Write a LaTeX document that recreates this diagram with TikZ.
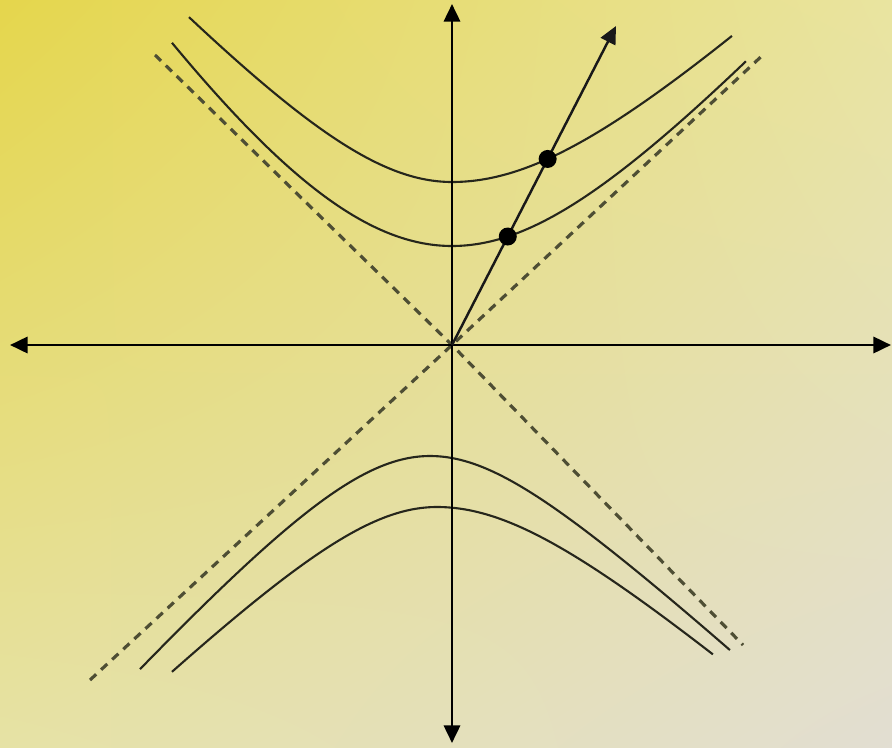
\documentclass[tikz,border=0pt]{standalone}
\usepackage{xcolor}
\usepackage{tikz}
\usetikzlibrary{arrows.meta,shadings,intersections}

\definecolor{bgtl}{RGB}{229,214,76}
\definecolor{bgtr}{RGB}{233,228,160}
\definecolor{bgbl}{RGB}{230,226,165}
\definecolor{bgbr}{RGB}{226,222,210}
\definecolor{curvecol}{RGB}{38,38,28}
\definecolor{dashcol}{RGB}{78,78,52}

\begin{document}
\begin{tikzpicture}[
		axis/.style={line width=0.8pt, black, {Triangle[length=5pt,width=4.6pt]}-{Triangle[length=5pt,width=4.6pt]}},
		ray/.style={line width=0.7pt, black!90, -{Triangle[length=5pt,width=4.6pt]}},
		branch/.style={line width=0.6pt, curvecol, samples=80},
		asym/.style={line width=0.9pt, dashcol, dash pattern=on 2.4pt off 1.9pt},
		dot/.style={circle, fill=black, inner sep=0pt, minimum size=0.18cm}
	]
			\shade[upper left=bgtl, upper right=bgtr, lower left=bgbl, lower right=bgbr] (-4.52,-4.02) rectangle (4.40,3.45);
			\useasboundingbox (-4.52,-4.02) rectangle (4.40,3.45);

			\coordinate (O) at (0,0);
			\coordinate (xmin) at (-4.42,0);
			\coordinate (xmax) at (4.39,0);
			\coordinate (ymin) at (0,-3.98);
			\coordinate (ymax) at (0,3.41);
			\coordinate (rayend) at (1.64,3.19);

			\coordinate (a1) at (-2.97,2.90);
			\coordinate (a2) at (2.91,-3.00);
			\coordinate (b1) at (-3.62,-3.35);
			\coordinate (b2) at (3.13,2.92);

			\draw[asym] (a1) -- (O) -- (a2);
			\draw[asym] (b1) -- (O) -- (b2);

			\draw[branch, name path=hypA] plot[domain=-2.63:0] (\x,{sqrt(1.63*1.63+1.17*\x*\x)})
				-- plot[domain=0:2.80] (\x,{sqrt(1.63*1.63+0.88*\x*\x)});
			\draw[branch, name path=hypB] plot[domain=-2.80:0] (\x,{0.99-4+sqrt(16+2.6*\x*\x)})
				-- plot[domain=0:2.94] (\x,{0.99-2+sqrt(4+1.25*\x*\x)});
			\draw[branch] plot[domain=-3.12:-0.22] (\x,{-1.11+1.4-sqrt(1.96+1.25*(\x+0.22)*(\x+0.22))})
				-- plot[domain=-0.22:2.78] (\x,{-1.11+1.0-sqrt(1+0.85*(\x+0.22)*(\x+0.22))});
			\draw[branch] plot[domain=-2.80:-0.15] (\x,{-1.62+1.2-sqrt(1.44+0.95*(\x+0.15)*(\x+0.15))})
				-- plot[domain=-0.15:2.61] (\x,{-1.62+1.2-sqrt(1.44+0.75*(\x+0.15)*(\x+0.15))});

			\draw[axis] (xmin) -- (xmax);
			\draw[axis] (ymin) -- (ymax);
			\draw[ray, name path=raypath] (O) -- (rayend);

			\path[name intersections={of=raypath and hypA, by={pA}}];
			\path[name intersections={of=raypath and hypB, by={pB}}];
			\node[dot] (dotB) at (pB) {};
			\node[dot] (dotA) at (pA) {};
		\end{tikzpicture}
\end{document}
